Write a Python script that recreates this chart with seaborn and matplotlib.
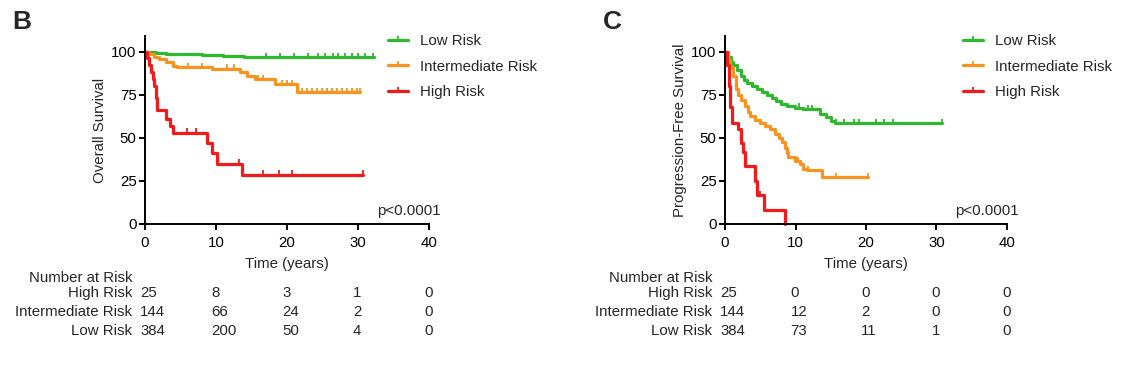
import numpy as np
import pandas as pd
import matplotlib
matplotlib.use("Agg")
import matplotlib.pyplot as plt
from matplotlib.lines import Line2D
from matplotlib.transforms import blended_transform_factory
import seaborn as sns

sns.set_theme(style="ticks")
plt.rcParams['font.family'] = ['Liberation Sans', 'DejaVu Sans']

groups = ["Low Risk", "Intermediate Risk", "High Risk"]
palette = {"Low Risk": "#2DB82D", "Intermediate Risk": "#F7931E", "High Risk": "#F21A1A"}

# ---------------- Panel B: Overall survival ----------------
os_low_t = [0, 0.5, 1, 1.5, 2, 3, 4, 5, 6, 7, 8, 9, 10, 11, 12, 13, 14, 15, 32.2]
os_low_s = [100, 99.7, 99.5, 99.2, 99.0, 98.7, 98.5, 98.5, 98.3, 98.3, 98.0, 98.0, 97.8, 97.6, 97.4, 97.2, 97.0, 96.7, 96.7]
os_low_c = [17, 19, 21, 23, 24.4, 25.4, 26.5, 27.2, 28.2, 29.1, 30.0, 31.0, 32.1]

os_int_t = [0, 0.5, 1.2, 2.0, 3.0, 4.0, 4.5, 9.4, 13.4, 14.3, 15.5, 18.3, 21.4, 30.3]
os_int_s = [100, 98.5, 97, 95.5, 93.8, 91.5, 91.0, 90.0, 88.0, 86.0, 84.0, 81.0, 76.5, 76.5]
os_int_c = [6, 8, 11.5, 12.5, 15.9, 16.6, 19.3, 20.0, 20.7, 22.1, 22.8, 23.5, 24.2, 24.9,
            25.6, 26.3, 27.0, 27.7, 28.4, 29.2, 29.9, 30.3]

os_high_t = [0, 0.3, 0.6, 0.9, 1.1, 1.3, 1.5, 1.7, 3.0, 3.5, 4.0, 8.7, 9.5, 10.2, 13.6, 30.7]
os_high_s = [100, 96, 92, 88, 84, 80, 73, 66, 61, 57, 53, 47, 41, 35, 28.5, 28.5]
os_high_c = [5.9, 7.2, 13.2, 16.6, 18.9, 20.7, 30.7]

# ---------------- Panel C: Progression-free survival ----------------
pfs_low_t = [0, 0.4, 0.8, 1.2, 1.7, 2.2, 2.7, 3.1, 3.8, 4.6, 5.3, 5.9, 6.6, 7.3, 8.0, 8.8, 9.9,
             11.1, 13.5, 14.3, 15.1, 15.6, 30.8]
pfs_low_s = [100, 97, 94, 92, 89, 86, 83.5, 81.5, 80, 78, 76.5, 75, 73, 71.5, 69.5, 68.5, 67.5,
             66.5, 63.5, 62, 59.6, 58.5, 58.5]
pfs_low_c = [10.5, 11.8, 12.3, 15.7, 16.9, 18.3, 19.0, 21.4, 22.6, 23.8, 30.8]

pfs_int_t = [0, 0.4, 0.75, 1.1, 1.5, 1.8, 2.2, 2.9, 3.3, 3.6, 4.3, 5.0, 5.7, 6.4, 7.1, 7.6, 8.1,
             8.5, 8.8, 9.0, 9.9, 10.7, 11.0, 11.6, 13.7, 20.3]
pfs_int_s = [100, 95, 91, 86, 78, 75, 72, 68.3, 65, 62.5, 60.5, 58.7, 57, 54.8, 52, 50, 47.4,
             44, 41, 39, 36.5, 35, 32, 31.2, 27, 27]
pfs_int_c = [10.3, 11.8, 15.8, 20.3]

pfs_high_t = [0, 0.25, 0.5, 0.75, 1.0, 1.9, 2.3, 2.6, 2.9, 4.3, 4.6, 5.5, 8.5]
pfs_high_s = [100, 92, 80, 68, 58.7, 54.8, 47, 41.5, 33.5, 25, 16.7, 8.3, 0]
pfs_high_c = [5.0]

# ---------------- Number at risk ----------------
risk_times = [0, 10, 20, 30, 40]
risk_rows = ["High Risk", "Intermediate Risk", "Low Risk"]
os_risk_high = [25, 8, 3, 1, 0]
os_risk_int = [144, 66, 24, 2, 0]
os_risk_low = [384, 200, 50, 4, 0]
pfs_risk_high = [25, 0, 0, 0, 0]
pfs_risk_int = [144, 12, 2, 0, 0]
pfs_risk_low = [384, 73, 11, 1, 0]

W, H = 1121, 380
fig = plt.figure(figsize=(W / 100, H / 100), dpi=100)

FS = 10.8
LW = 2.3


def build(curves, censors):
    rows, crows = [], []
    for g in groups:
        t, s = curves[g]
        for ti, si in zip(t, s):
            rows.append((g, ti, si))
        ta = np.asarray(t)
        sa = np.asarray(s)
        for c in censors[g]:
            idx = np.searchsorted(ta, c, side="right") - 1
            crows.append((g, c, sa[idx]))
    return (pd.DataFrame(rows, columns=["group", "time", "surv"]),
            pd.DataFrame(crows, columns=["group", "time", "surv"]))


def panel(ax, curves, censors, ylabel, risk, letter, letter_x, legend_x):
    df, cdf = build(curves, censors)
    sns.lineplot(data=df, x="time", y="surv", hue="group", palette=palette, estimator=None,
                 drawstyle="steps-post", linewidth=LW, legend=False, ax=ax, sort=False)
    sns.scatterplot(data=cdf, x="time", y="surv", hue="group", palette=palette, marker=2,
                    s=10, linewidth=1.3, legend=False, ax=ax)
    for ln in ax.lines:
        ln.set_clip_on(False)
    ax.set_xlim(0, 40)
    ax.set_ylim(0, 109)
    ax.set_xticks([0, 10, 20, 30, 40])
    ax.set_yticks([0, 25, 50, 75, 100])
    ax.set_xlabel("Time (years)", fontsize=FS, labelpad=5)
    ax.set_ylabel(ylabel, fontsize=FS, labelpad=3)
    sns.despine(ax=ax)
    for sp in ("left", "bottom"):
        ax.spines[sp].set_linewidth(1.4)
        ax.spines[sp].set_color("black")
    ax.tick_params(axis="x", pad=5)
    ax.tick_params(axis="y", pad=2)
    ax.tick_params(axis="both", direction="out", length=4, width=1.4, labelsize=FS,
                   colors="black")
    ax.text(1.04, 0.07, "p<0.0001", transform=ax.transAxes, ha="right", va="center", fontsize=FS)

    handles = [Line2D([0], [0], color=palette[g], lw=LW, marker=2, markersize=3,
                      markeredgewidth=1.3) for g in groups]
    fig.legend(handles, groups, loc="upper left", bbox_to_anchor=(legend_x / W, 1 - 34 / H),
               frameon=False, fontsize=FS, handlelength=1.35, handletextpad=0.8,
               labelspacing=0.78, borderaxespad=0, borderpad=0)

    tr = blended_transform_factory(ax.transData, fig.transFigure)
    ax.text(-1.8, 1 - 278 / H, "Number at Risk", transform=tr, ha="right", va="center", fontsize=FS)
    for row, yp in zip(risk_rows, [293, 312, 331]):
        ax.text(-1.8, 1 - yp / H, row, transform=tr, ha="right", va="center", fontsize=FS)
        for t, n in zip(risk_times, risk[row]):
            ax.text(t - 0.7, 1 - yp / H, str(n), transform=tr, ha="left", va="center", fontsize=FS)
    fig.text(letter_x / W, 1 - 22 / H, letter, fontsize=19, fontweight="bold", ha="center", va="center")


ax1 = fig.add_axes([145 / W, 1 - 224 / H, 284 / W, 188 / H])
ax2 = fig.add_axes([725 / W, 1 - 224 / H, 282 / W, 188 / H])

panel(ax1,
      {"Low Risk": (os_low_t, os_low_s), "Intermediate Risk": (os_int_t, os_int_s),
       "High Risk": (os_high_t, os_high_s)},
      {"Low Risk": os_low_c, "Intermediate Risk": os_int_c, "High Risk": os_high_c},
      "Overall Survival",
      {"High Risk": os_risk_high, "Intermediate Risk": os_risk_int, "Low Risk": os_risk_low},
      "B", 22, 388)

panel(ax2,
      {"Low Risk": (pfs_low_t, pfs_low_s), "Intermediate Risk": (pfs_int_t, pfs_int_s),
       "High Risk": (pfs_high_t, pfs_high_s)},
      {"Low Risk": pfs_low_c, "Intermediate Risk": pfs_int_c, "High Risk": pfs_high_c},
      "Progression-Free Survival",
      {"High Risk": pfs_risk_high, "Intermediate Risk": pfs_risk_int, "Low Risk": pfs_risk_low},
      "C", 612, 963)

fig.savefig("out.png", dpi=100, facecolor="white")
